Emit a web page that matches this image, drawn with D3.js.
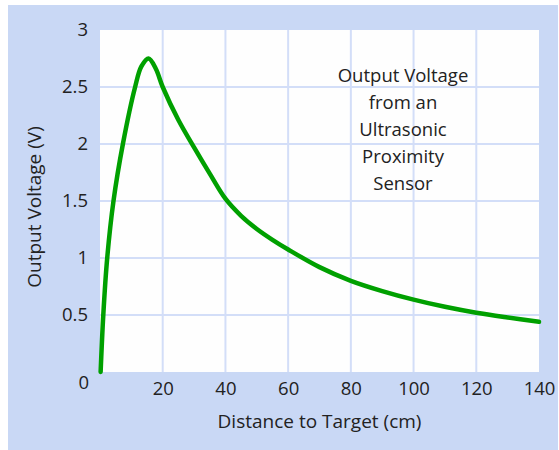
<!DOCTYPE html>
<html>
<head>
<meta charset="utf-8">
<script src="https://cdn.jsdelivr.net/npm/d3@7"></script>
<style>
  body { margin: 0; background: #fff; }
  text { font-family: "Open Sans", "Liberation Sans", sans-serif; fill: #222; }
</style>
</head>
<body>
<div id="chart"></div>
<script>
// curve: distance (cm) -> output voltage (V)
var distance = [0.2, 1.05, 2.3, 4.3, 7.3, 11.2, 13.2, 15.5, 17.8, 20, 25, 30, 35, 40, 45, 50, 55, 60, 70, 80, 90, 100, 110, 120, 130, 140];
var voltage  = [0, 0.5, 1.0, 1.5, 2.0, 2.5, 2.68, 2.75, 2.66, 2.5, 2.21, 1.97, 1.74, 1.52, 1.37, 1.255, 1.16, 1.075, 0.92, 0.80, 0.71, 0.635, 0.572, 0.52, 0.478, 0.44];
var xTicks = [20, 40, 60, 80, 100, 120, 140];
var yTicks = [0.5, 1, 1.5, 2, 2.5, 3];
var noteLines = ["Output Voltage", "from an", "Ultrasonic", "Proximity", "Sensor"];

var W = 559, H = 450;
var margin = { top: 30, left: 100, right: 20, bottom: 78 };
var width = W - margin.left - margin.right;
var height = H - margin.top - margin.bottom;

var svg = d3.select("#chart").append("svg")
    .attr("width", W)
    .attr("height", H);

//blue panel behind everything
svg.append("rect")
    .attr("x", 8).attr("y", 5)
    .attr("width", 550).attr("height", 445)
    .attr("fill", "#c9d8f5");

var g = svg.append("g")
    .attr("transform", "translate(" + margin.left + "," + margin.top + ")");

var x = d3.scaleLinear().domain([0, 140]).range([0, width]);
var y = d3.scaleLinear().domain([0, 3]).range([height, 0]);

g.append("rect")
    .attr("width", width).attr("height", height)
    .attr("fill", "#fefefe");

//grid
g.selectAll(".vgrid")
    .data(xTicks.filter(d => d < 140))
    .enter().append("line")
    .attr("class", "vgrid")
    .attr("x1", d => x(d)).attr("x2", d => x(d))
    .attr("y1", 0).attr("y2", height)
    .attr("stroke", "#d3def8").attr("stroke-width", 2);

g.selectAll(".hgrid")
    .data(yTicks.filter(d => d < 3))
    .enter().append("line")
    .attr("class", "hgrid")
    .attr("x1", 0).attr("x2", width)
    .attr("y1", d => y(d)).attr("y2", d => y(d))
    .attr("stroke", "#d3def8").attr("stroke-width", 2);

//axes, only the labels are visible
var xAxis = g.append("g")
    .attr("transform", "translate(0," + height + ")")
    .call(d3.axisBottom(x).tickValues(xTicks).tickSize(0).tickPadding(10));
var yAxis = g.append("g")
    .call(d3.axisLeft(y).tickValues(yTicks).tickSize(0).tickPadding(12).tickFormat(d3.format("")));
[xAxis, yAxis].forEach(a => {
    a.select(".domain").remove();
    a.selectAll("text")
        .attr("font-size", 18.5)
        .attr("font-family", "'Open Sans', 'Liberation Sans', sans-serif")
        .attr("fill", "#222");
});

//corner zero
g.append("text")
    .attr("x", -11).attr("y", height + 17)
    .attr("text-anchor", "end")
    .attr("font-size", 18.5)
    .text("0");

//curve
var pts = distance.map((d, i) => [d, voltage[i]]);
var line = d3.line()
    .x(d => x(d[0]))
    .y(d => y(d[1]))
    .curve(d3.curveCatmullRom.alpha(0.5));

g.append("path")
    .datum(pts)
    .attr("d", line)
    .attr("fill", "none")
    .attr("stroke", "#00a000")
    .attr("stroke-width", 4.5)
    .attr("stroke-linecap", "round");

//titles
svg.append("text")
    .attr("x", margin.left + width / 2).attr("y", 428)
    .attr("text-anchor", "middle")
    .attr("font-size", 19)
    .text("Distance to Target (cm)");

svg.append("text")
    .attr("transform", "translate(41," + 207 + ") rotate(-90)")
    .attr("text-anchor", "middle")
    .attr("font-size", 19)
    .text("Output Voltage (V)");

g.selectAll(".note")
    .data(noteLines)
    .enter().append("text")
    .attr("class", "note")
    .attr("x", 403 - margin.left)
    .attr("y", (d, i) => 82 - margin.top + i * 27)
    .attr("text-anchor", "middle")
    .attr("font-size", 18.5)
    .text(d => d);
</script>
</body>
</html>
